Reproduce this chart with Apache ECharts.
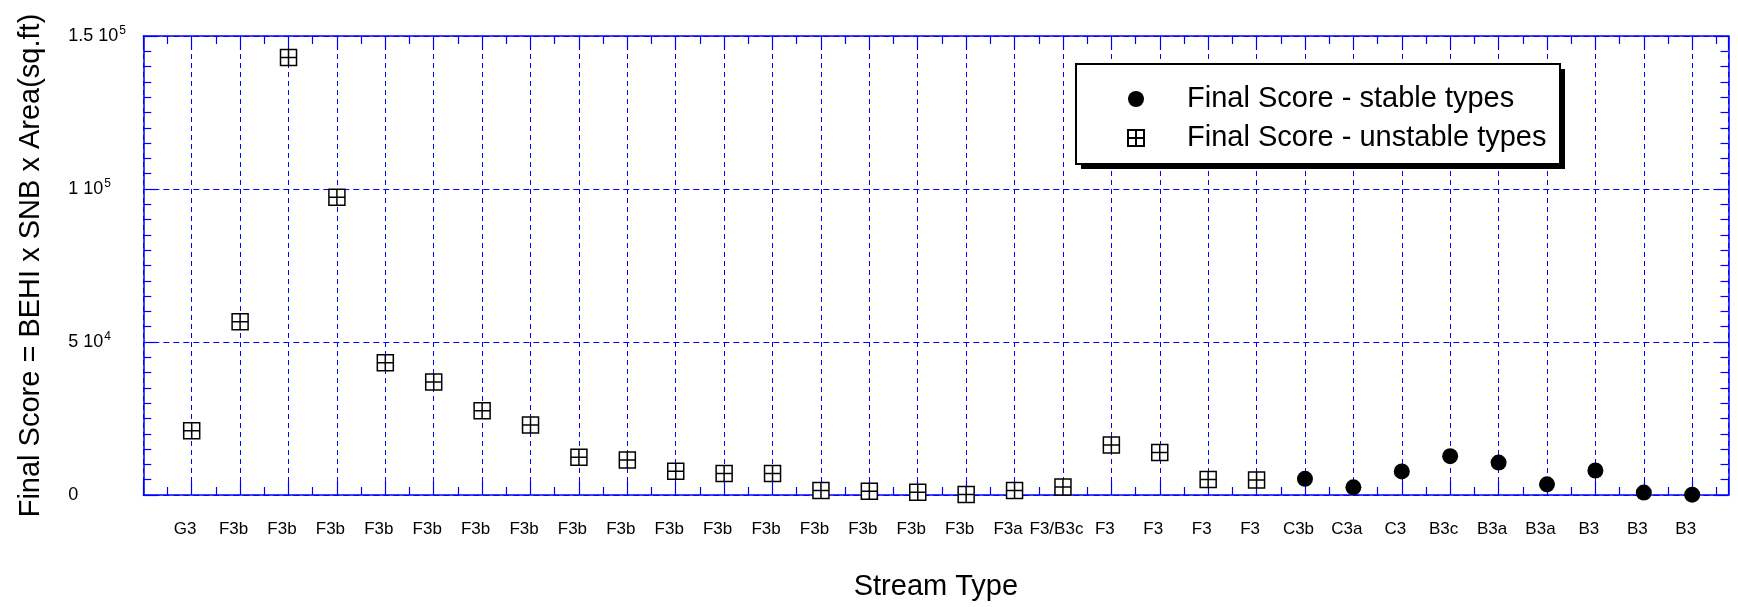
<!DOCTYPE html>
<html>
<head>
<meta charset="utf-8">
<script src="https://cdn.jsdelivr.net/npm/echarts@6/dist/echarts.min.js"></script>
<style>
html, body { margin: 0; padding: 0; background: #fff; }
#chart { width: 1738px; height: 607px; }
</style>
</head>
<body>
<div id="chart"></div>
<script>
// ---- data ----
const categories = ['G3', 'F3b', 'F3b', 'F3b', 'F3b', 'F3b', 'F3b', 'F3b', 'F3b', 'F3b', 'F3b', 'F3b', 'F3b', 'F3b', 'F3b', 'F3b', 'F3b',
  'F3a', 'F3/B3c', 'F3', 'F3', 'F3', 'F3', 'C3b', 'C3a', 'C3', 'B3c', 'B3a', 'B3a', 'B3', 'B3', 'B3'];
const unstableValues = [21000, 56600, 143000, 97300, 43200, 36900, 27500, 22900, 12300, 11400, 7800, 7000, 7000,
  1500, 1200, 900, 200, 1500, 2600, 16300, 13900, 5100, 4900];
const stableValues = [5300, 2500, 7700, 12700, 10600, 3500, 8000, 800, 100];
const yTickValues = [0, 50000, 100000, 150000];
const yTickMantissa = ['0', '5', '1', '1.5'];
const yTickExponent = ['', '4', '5', '5'];
const seriesNames = ['Final Score - stable types', 'Final Score - unstable types'];
const xTitle = 'Stream Type';
const yTitle = 'Final Score = BEHI x SNB x Area(sq.ft)';

// ---- build ----
const FONT = '"Liberation Sans", Arial, Helvetica, sans-serif';
const BLUE = '#0000ff';
const unstableData = unstableValues.map((v, i) => [i + 1, v]);
const stableData = stableValues.map((v, i) => [unstableValues.length + 1 + i, v]);

const tickCommon = {
  axisLine: { show: true, onZero: false, lineStyle: { color: BLUE, width: 1.5 } },
  axisTick: { show: true, inside: true, length: 14, lineStyle: { color: BLUE, width: 1.2 } },
};

const xBase = { type: 'value', min: 0, max: 32.75, interval: 1 };
const yBase = { type: 'value', min: 0, max: 150000, interval: 50000 };

const chart = echarts.init(document.getElementById('chart'), null, { renderer: 'canvas' });
chart.setOption({
  animation: false,
  backgroundColor: '#fff',
  textStyle: { fontFamily: FONT },
  grid: { left: 143.3, right: 9.5, top: 36, bottom: 112, containLabel: false },
  graphic: [
    { type: 'rect', z: 10, shape: { x: 1081, y: 69, width: 484, height: 100 }, style: { fill: '#000' } },
    { type: 'rect', z: 11, shape: { x: 1076, y: 64, width: 484, height: 100 }, style: { fill: '#fff', stroke: '#000', lineWidth: 2 } }
  ],
  legend: {
    orient: 'vertical',
    left: 1076, top: 64,
    z: 20,
    data: seriesNames,
    padding: [20, 12, 12, 51],
    itemGap: 9,
    itemWidth: 16, itemHeight: 16,
    backgroundColor: 'transparent',
    borderWidth: 0,
    textStyle: { fontFamily: FONT, fontSize: 29, color: '#000', lineHeight: 30, padding: [0, 0, 0, 38] },
    selectedMode: false
  },
  xAxis: [
    Object.assign({}, xBase, tickCommon, {
      position: 'bottom',
      name: xTitle, nameLocation: 'middle', nameGap: 77,
      nameTextStyle: { fontFamily: FONT, fontSize: 29, color: '#000' },
      minorTick: { show: true, splitNumber: 2, length: 8, lineStyle: { color: BLUE, width: 1.2 } },
      splitLine: { show: true, lineStyle: { color: BLUE, width: 1, type: [5, 4] } },
      axisLabel: {
        show: true, margin: 26, fontFamily: FONT, fontSize: 17, color: '#000',
        padding: [0, 13, 0, 0],
        showMinLabel: true, showMaxLabel: true,
        formatter: function (v) {
          const k = Math.round(v);
          if (Math.abs(v - k) > 1e-6 || k < 1 || k > categories.length) return '';
          return categories[k - 1];
        }
      }
    }),
    Object.assign({}, xBase, tickCommon, {
      position: 'top',
      minorTick: { show: true, splitNumber: 2, length: 8, lineStyle: { color: BLUE, width: 1.2 } },
      splitLine: { show: false },
      axisLabel: { show: false }
    })
  ],
  yAxis: [
    Object.assign({}, yBase, tickCommon, {
      position: 'left',
      name: yTitle, nameLocation: 'middle', nameGap: 98,
      nameTextStyle: { fontFamily: FONT, fontSize: 29, color: '#000' },
      minorTick: { show: true, splitNumber: 10, length: 8, lineStyle: { color: BLUE, width: 1.2 } },
      splitLine: { show: true, lineStyle: { color: BLUE, width: 1, type: [6, 4] } },
      axisLabel: {
        show: true, margin: 75, align: 'left', color: '#000', fontFamily: FONT, fontSize: 18,
        formatter: function (v) {
          const i = yTickValues.indexOf(v);
          if (i < 0) return '';
          if (!yTickExponent[i]) return '{b|' + yTickMantissa[i] + '}';
          return '{b|' + yTickMantissa[i] + ' 10}{s|' + yTickExponent[i] + '}';
        },
        rich: {
          b: { fontFamily: FONT, fontSize: 18, color: '#000' },
          s: { fontFamily: FONT, fontSize: 12, color: '#000', padding: [0, 0, 11, 1] }
        }
      }
    }),
    Object.assign({}, yBase, tickCommon, {
      position: 'right',
      minorTick: { show: true, splitNumber: 10, length: 8, lineStyle: { color: BLUE, width: 1.2 } },
      splitLine: { show: false },
      axisLabel: { show: false }
    })
  ],
  series: [
    {
      name: seriesNames[0], type: 'scatter', xAxisIndex: 0, yAxisIndex: 0,
      data: stableData, symbol: 'circle', symbolSize: 16,
      itemStyle: { color: '#000', opacity: 1 }, z: 5
    },
    {
      name: seriesNames[1], type: 'scatter', xAxisIndex: 0, yAxisIndex: 0,
      data: unstableData,
      symbol: 'path://M0 0H20V20H0ZM10 0V20M0 10H20', symbolSize: 16, symbolKeepAspect: true,
      itemStyle: { color: '#fff', borderColor: '#000', borderWidth: 1.5, opacity: 1 }, z: 5
    }
  ]
});
</script>
</body>
</html>
